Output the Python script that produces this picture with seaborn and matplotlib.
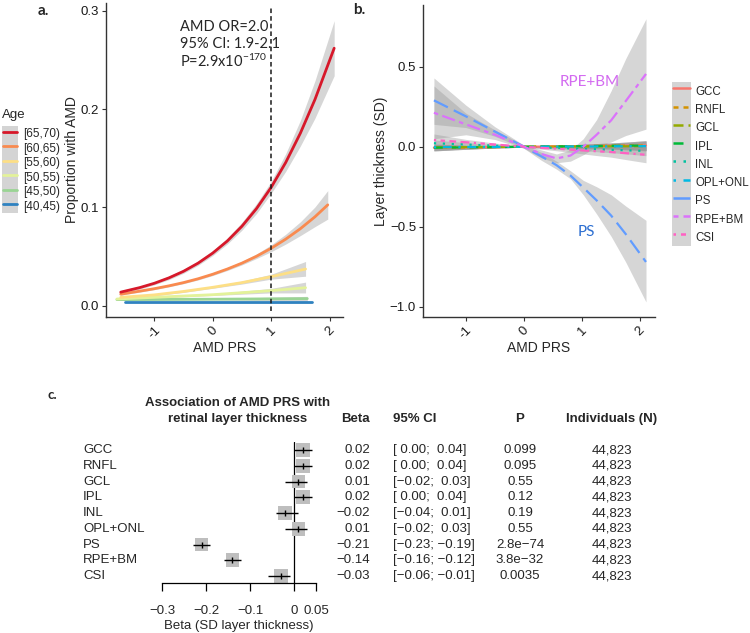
"""AMD PRS figure: risk curves by age (a), layer thickness curves (b), forest plot (c)."""
import matplotlib
matplotlib.use("Agg")
import matplotlib.pyplot as plt
import matplotlib.transforms as mtransforms
from matplotlib.lines import Line2D
from matplotlib.patches import Rectangle
import pandas as pd
import seaborn as sns

# ---- panel a: proportion with AMD by age group ----
age_groups = ["[65,70)", "[60,65)", "[55,60)", "[50,55)", "[45,50)", "[40,45)"]
age_colors = ["#D7182A", "#F98A4F", "#FDDF86", "#E3F29A", "#9AD494", "#2F82C0"]

prs_6570 = [-1.575, -1.25, -1.0, -0.75, -0.5, -0.25, 0.0, 0.25, 0.5, 0.75,
            1.0, 1.25, 1.5, 1.75, 2.08]
amd_6570 = [0.0138, 0.0184, 0.0228, 0.0283, 0.035, 0.0433, 0.0535, 0.0658, 0.0808,
            0.0988, 0.1203, 0.1457, 0.1754, 0.2097, 0.262]
lo_6570 = [0.0123, 0.0169, 0.0213, 0.0265, 0.033, 0.0411, 0.051, 0.0628, 0.0768,
           0.0938, 0.1143, 0.1367, 0.1624, 0.1907, 0.234]
hi_6570 = [0.0153, 0.0199, 0.0243, 0.0301, 0.037, 0.0455, 0.056, 0.0688, 0.0848,
           0.1038, 0.1263, 0.1547, 0.1884, 0.2287, 0.29]

prs_6065 = [-1.575, -1.25, -1.0, -0.75, -0.5, -0.25, 0.0, 0.25, 0.5, 0.75,
            1.0, 1.25, 1.5, 1.75, 1.97]
amd_6065 = [0.0117, 0.0148, 0.0173, 0.0202, 0.0235, 0.0274, 0.032, 0.0373, 0.0433,
            0.0503, 0.0584, 0.0677, 0.0783, 0.0904, 0.1026]
lo_6065 = [0.0107, 0.0138, 0.0163, 0.0192, 0.0224, 0.0262, 0.0307, 0.0358, 0.0415,
           0.048, 0.0549, 0.0627, 0.0713, 0.0804, 0.0881]
hi_6065 = [0.0127, 0.0158, 0.0183, 0.0212, 0.0246, 0.0286, 0.0333, 0.0388, 0.0451,
           0.0526, 0.0619, 0.0727, 0.0853, 0.1004, 0.1171]

prs_5560 = [-1.575, -1.0, -0.5, 0.0, 0.5, 1.0, 1.59]
amd_5560 = [0.0085, 0.011, 0.0145, 0.0187, 0.0235, 0.0295, 0.0373]
lo_5560 = [0.0075, 0.010, 0.0135, 0.0177, 0.022, 0.027, 0.030]
hi_5560 = [0.0095, 0.012, 0.0155, 0.0197, 0.025, 0.032, 0.045]

prs_5055 = [-1.64, -1.0, 0.0, 1.0, 1.59]
amd_5055 = [0.0068, 0.0085, 0.0112, 0.0153, 0.0183]
lo_5055 = [0.006, 0.0078, 0.0104, 0.013, 0.013]
hi_5055 = [0.0076, 0.0092, 0.012, 0.0176, 0.024]

prs_4550 = [-1.64, 0.0, 1.62]
amd_4550 = [0.0062, 0.0066, 0.0072]
lo_4550 = [0.0055, 0.006, 0.0045]
hi_4550 = [0.007, 0.0072, 0.0095]

prs_4045 = [-1.50, 0.0, 1.705]
amd_4045 = [0.0033, 0.0033, 0.0033]
lo_4045 = [0.0029, 0.0031, 0.0027]
hi_4045 = [0.0037, 0.0035, 0.0039]

# ---- panel b: layer thickness vs PRS ----
layers = ["GCC", "RNFL", "GCL", "IPL", "INL", "OPL+ONL", "PS", "RPE+BM", "CSI"]
layer_colors = ["#F8766D", "#D39200", "#93AA00", "#00BA38", "#00C19F",
                "#00B9E3", "#619CFF", "#DB72FB", "#FF61C3"]
prs_b = [-1.55, -1.0, -0.5, 0.0, 0.3, 0.56, 0.8, 1.02, 1.25, 1.5, 1.75, 2.1]

gcc = [-0.006, -0.004, -0.002, 0.0, 0.001, 0.002, 0.003, 0.004, 0.005, 0.006, 0.007, 0.008]
rnfl = [-0.006, -0.004, -0.002, 0.0, 0.001, 0.002, 0.003, 0.004, 0.005, 0.006, 0.007, 0.008]
gcl = [-0.003, -0.002, -0.001, 0.0, 0.001, 0.001, 0.002, 0.002, 0.002, 0.003, 0.003, 0.004]
ipl = [-0.006, -0.004, -0.002, 0.0, 0.001, 0.002, 0.003, 0.004, 0.005, 0.006, 0.007, 0.008]
inl = [0.022, 0.014, 0.007, 0.0, -0.004, -0.007, -0.010, -0.013, -0.016, -0.019, -0.022, -0.026]
opl = [-0.003, -0.002, -0.001, 0.0, 0.001, 0.001, 0.002, 0.002, 0.002, 0.003, 0.003, 0.004]
ps = [0.29, 0.19, 0.095, 0.0, -0.06, -0.115, -0.18, -0.255, -0.335, -0.43, -0.545, -0.72]
rpe = [0.2125, 0.14, 0.075, 0.0, -0.045, -0.073, -0.055, 0.0, 0.075, 0.165, 0.285, 0.455]
csi = [0.042, 0.028, 0.014, 0.0, -0.007, -0.012, -0.018, -0.023, -0.028, -0.033, -0.04, -0.05]

small_band = [0.02, 0.012, 0.006, 0.003, 0.005, 0.008, 0.010, 0.012, 0.015, 0.018, 0.022, 0.03]
ps_lo = [0.14, 0.12, 0.065, -0.01, -0.085, -0.14, -0.20, -0.30, -0.42, -0.56, -0.72, -0.97]
ps_hi = [0.43, 0.26, 0.125, 0.01, -0.035, -0.09, -0.15, -0.21, -0.25, -0.30, -0.37, -0.46]
rpe_lo = [0.05, 0.075, 0.045, -0.01, -0.07, -0.10, -0.09, -0.05, 0.0, 0.03, 0.07, 0.11]
rpe_hi = [0.38, 0.21, 0.105, 0.01, -0.02, -0.045, -0.02, 0.05, 0.17, 0.35, 0.55, 0.80]
csi_lo = [0.0, 0.01, 0.005, -0.005, -0.015, -0.025, -0.035, -0.045, -0.055, -0.065, -0.08, -0.10]
csi_hi = [0.08, 0.046, 0.023, 0.005, 0.001, 0.001, -0.001, -0.001, -0.001, -0.001, 0.0, 0.0]

# ---- panel c: forest plot ----
beta = [0.02, 0.02, 0.01, 0.02, -0.02, 0.01, -0.21, -0.14, -0.03]
ci_lo = [0.00, 0.00, -0.02, 0.00, -0.04, -0.02, -0.23, -0.16, -0.06]
ci_hi = [0.04, 0.04, 0.03, 0.04, 0.01, 0.03, -0.19, -0.12, -0.01]
p_vals = ["0.099", "0.095", "0.55", "0.12", "0.19", "0.55", "2.8e\u221274", "3.8e\u221232", "0.0035"]
n_ind = ["44,823"] * 9

sns.set_theme(style="ticks")
plt.rcParams["font.family"] = ["Liberation Sans", "DejaVu Sans"]
plt.rcParams["mathtext.fontset"] = "custom"
plt.rcParams["mathtext.rm"] = "Lato"
plt.rcParams["mathtext.it"] = "Lato:italic"
plt.rcParams["mathtext.bf"] = "Lato:bold"

W, H = 750, 633
fig = plt.figure(figsize=(7.5, 6.33), dpi=100)


def fx(px):
    return px / W


def fy(py):
    return 1 - py / H


def style_axis(ax):
    sns.despine(ax=ax)
    for s in ("left", "bottom"):
        ax.spines[s].set_color("#333333")
        ax.spines[s].set_linewidth(1.0)
    ax.tick_params(length=3, width=0.8, color="#333333", labelsize=9.5,
                   labelcolor="#1a1a1a", pad=2)


# ================= panel a =================
ax_a = fig.add_axes([fx(106), fy(317), fx(343 - 106), (317 - 3) / H])
a_series = [
    (prs_6570, amd_6570, lo_6570, hi_6570),
    (prs_6065, amd_6065, lo_6065, hi_6065),
    (prs_5560, amd_5560, lo_5560, hi_5560),
    (prs_5055, amd_5055, lo_5055, hi_5055),
    (prs_4550, amd_4550, lo_4550, hi_4550),
    (prs_4045, amd_4045, lo_4045, hi_4045),
]
frames = []
for grp, (x, y, lo, hi) in zip(age_groups, a_series):
    frames.append(pd.DataFrame({"prs": x, "amd": y, "age": grp}))
    ax_a.fill_between(x, lo, hi, color="#999999", alpha=0.4, lw=0, zorder=1)
df_a = pd.concat(frames, ignore_index=True)
sns.lineplot(data=df_a, x="prs", y="amd", hue="age", hue_order=age_groups[::-1],
             palette=dict(zip(age_groups, age_colors)), lw=2, legend=False,
             errorbar=None, ax=ax_a, zorder=3)
ax_a.axvline(1, ymin=0.02, ymax=0.985, color="#1a1a1a", lw=1.1, dashes=(3, 2), zorder=4)
ax_a.set_xlim(-1.827, 2.231)
ax_a.set_ylim(-0.0115, 0.308)
ax_a.set_xticks([-1, 0, 1, 2])
ax_a.set_yticks([0.0, 0.1, 0.2, 0.3])
ax_a.set_yticklabels(["0.0", "0.1", "0.2", "0.3"])
ax_a.set_xticklabels(["-1", "0", "1", "2"], rotation=45, ha="center")
ax_a.set_xlabel("AMD PRS", fontsize=10, labelpad=0)
ax_a.set_ylabel("Proportion with AMD", fontsize=10, labelpad=1)
style_axis(ax_a)

fig.text(fx(180), fy(27), "AMD OR=2.0", family="Lato", fontsize=10.5, va="center")
fig.text(fx(180), fy(44), "95% CI: 1.9-2.1", family="Lato", fontsize=10.5, va="center")
fig.text(fx(180), fy(61), "P=2.9x10$^{-170}$", family="Lato", fontsize=10.5, va="center")

leg_fs_a, leg_hl_a = 8.5, 1.19
handles_a = [Line2D([], [], color=c, lw=2) for c in age_colors]
leg_a = fig.legend(handles_a, age_groups, loc="upper left",
                   bbox_to_anchor=(fx(3), fy(126)), bbox_transform=fig.transFigure,
                   frameon=False, fontsize=leg_fs_a, handlelength=leg_hl_a, handleheight=1.52,
                   labelspacing=0.0, handletextpad=0.55, borderpad=0, borderaxespad=0)
fig.text(fx(2), fy(115), "Age", fontsize=9.5, va="center")

# ================= panel b =================
ax_b = fig.add_axes([fx(423), fy(317), fx(655 - 423), (317 - 5) / H])
b_vals = [gcc, rnfl, gcl, ipl, inl, opl, ps, rpe, csi]
b_bands = {
    "PS": (ps_lo, ps_hi),
    "RPE+BM": (rpe_lo, rpe_hi),
    "CSI": (csi_lo, csi_hi),
}
frames = []
for name, vals in zip(layers, b_vals):
    frames.append(pd.DataFrame({"prs": prs_b, "thickness": vals, "layer": name}))
    if name in b_bands:
        lo, hi = b_bands[name]
    else:
        lo = [v - w for v, w in zip(vals, small_band)]
        hi = [v + w for v, w in zip(vals, small_band)]
    ax_b.fill_between(prs_b, lo, hi, color="#999999", alpha=0.4, lw=0, zorder=1)
df_b = pd.concat(frames, ignore_index=True)
layer_dashes = {
    "GCC": "", "RNFL": (2, 2), "GCL": (4, 2), "IPL": (4, 4), "INL": (1, 3),
    "OPL+ONL": (1, 3, 4, 3), "PS": (7, 3), "RPE+BM": (2, 2, 6, 2), "CSI": (1, 2, 2, 2, 3, 2, 4, 2),
}
sns.lineplot(data=df_b, x="prs", y="thickness", hue="layer", style="layer",
             hue_order=layers, style_order=layers,
             palette=dict(zip(layers, layer_colors)), dashes=layer_dashes,
             lw=1.6, legend=False, errorbar=None, ax=ax_b, zorder=3)
ax_b.set_xlim(-1.738, 2.255)
ax_b.set_ylim(-1.064, 0.886)
ax_b.set_xticks([-1, 0, 1, 2])
ax_b.set_xticklabels(["-1", "0", "1", "2"], rotation=45, ha="center")
ax_b.set_yticks([-1.0, -0.5, 0.0, 0.5])
ax_b.set_yticklabels(["\u22121.0", "\u22120.5", "0.0", "0.5"])
ax_b.set_xlabel("AMD PRS", fontsize=10, labelpad=0)
ax_b.set_ylabel("Layer thickness (SD)", fontsize=10, labelpad=1)
style_axis(ax_b)
ax_b.text(0.62, 0.406, "RPE+BM", color="#D36BF0", family="Lato", fontsize=11, va="center")
ax_b.text(0.93, -0.533, "PS", color="#2D6FD1", family="Lato", fontsize=11, va="center")

leg_fs_b, leg_hl_b = 8.3, 1.47
handles_b = [Line2D([], [], color=c, lw=1.8,
                    dashes=(layer_dashes[n] if layer_dashes[n] else (None, None)))
             for n, c in zip(layers, layer_colors)]
leg_b = fig.legend(handles_b, layers, loc="upper left",
                   bbox_to_anchor=(fx(673), fy(82)), bbox_transform=fig.transFigure,
                   frameon=False, fontsize=leg_fs_b, handlelength=leg_hl_b, handleheight=2.06,
                   labelspacing=0.0, handletextpad=0.45, borderpad=0, borderaxespad=0)

fig.text(fx(38), fy(11), "a.", family="Lato", fontweight="bold", fontsize=11, va="center")
fig.text(fx(353), fy(10), "b.", family="Lato", fontweight="bold", fontsize=11, va="center")

# ================= panel c =================
ax_c = fig.add_axes([fx(162), fy(583), fx(316 - 162), (583 - 442) / H])
rows = list(range(len(layers)))
df_c = pd.DataFrame({"layer": layers, "beta": beta, "row": rows})
ax_c.hlines(rows, ci_lo, ci_hi, color="black", lw=1.0, zorder=3)
sns.scatterplot(data=df_c, x="beta", y="row", marker="s", s=95, color="#BEBEBE",
                edgecolor="none", ax=ax_c, zorder=2, legend=False)
ax_c.plot(beta, rows, ls="none", marker="|", ms=4, mew=1.0, color="black", zorder=4)
ax_c.axvline(0, color="black", lw=0.9, zorder=1)
ax_c.set_xlim(-0.3, 0.05)
ax_c.set_ylim(8.444, -0.508)
ax_c.set_yticks([])
ax_c.set_ylabel("")
ax_c.set_xticks([-0.3, -0.2, -0.1, 0.0, 0.05])
ax_c.set_xticklabels(["\u22120.3", "\u22120.2", "\u22120.1", "0", "0.05"])
ax_c.set_xlabel("Beta (SD layer thickness)", fontsize=9.5, labelpad=2)
for s in ("left", "right", "top"):
    ax_c.spines[s].set_visible(False)
ax_c.spines["bottom"].set_color("black")
ax_c.spines["bottom"].set_linewidth(0.9)
ax_c.tick_params(axis="x", length=6, width=0.9, color="black", labelsize=9.5, pad=10)
ax_c.set_facecolor("none")

trans = mtransforms.blended_transform_factory(fig.transFigure, ax_c.transData)


def fmt(v):
    return f"{v:5.2f}".replace("-", "\u2212")


for i, name in enumerate(layers):
    ax_c.text(fx(83), i, name, transform=trans, fontsize=9.5, va="center", ha="left")
    ax_c.text(fx(370), i, fmt(beta[i]).strip(), transform=trans, fontsize=9.5,
              va="center", ha="right")
    ax_c.text(fx(393), i, f"[{fmt(ci_lo[i])}; {fmt(ci_hi[i])}]", transform=trans,
              fontsize=9.5, va="center", ha="left")
    ax_c.text(fx(520), i, p_vals[i], transform=trans, fontsize=9.5, va="center", ha="center")
    ax_c.text(fx(612), i, n_ind[i], transform=trans, fontsize=9.5, va="center", ha="center")

hdr_y = (419 - 450) / 15.75
ttl_y = (403 - 450) / 15.75
ax_c.text(fx(238), ttl_y, "Association of AMD PRS with", transform=trans, fontsize=9.5,
          fontweight="bold", ha="center", va="center")
ax_c.text(fx(238), hdr_y, "retinal layer thickness", transform=trans, fontsize=9.5,
          fontweight="bold", ha="center", va="center")
ax_c.text(fx(370), hdr_y, "Beta", transform=trans, fontsize=9.5, fontweight="bold",
          ha="right", va="center")
ax_c.text(fx(393), hdr_y, "95% CI", transform=trans, fontsize=9.5, fontweight="bold",
          ha="left", va="center")
ax_c.text(fx(520), hdr_y, "P", transform=trans, fontsize=9.5, fontweight="bold",
          ha="center", va="center")
ax_c.text(fx(612), hdr_y, "Individuals (N)", transform=trans, fontsize=9.5,
          fontweight="bold", ha="center", va="center")
fig.text(fx(47), fy(395), "c.", family="Lato", fontweight="bold", fontsize=9.5, va="center")

# gray key backgrounds behind the legend handles (ggplot style)
fig.canvas.draw()
for leg, fs, hl in ((leg_a, leg_fs_a, leg_hl_a), (leg_b, leg_fs_b, leg_hl_b)):
    bb = leg.get_window_extent().transformed(fig.transFigure.inverted())
    w = hl * fs * 100 / 72 / W
    fig.patches.append(Rectangle((bb.x0 - fx(1), bb.y0), w + fx(2), bb.height,
                                 transform=fig.transFigure, fc="#D4D4D4", ec="none", zorder=0))

fig.savefig("out.png", dpi=100)
plt.close(fig)
